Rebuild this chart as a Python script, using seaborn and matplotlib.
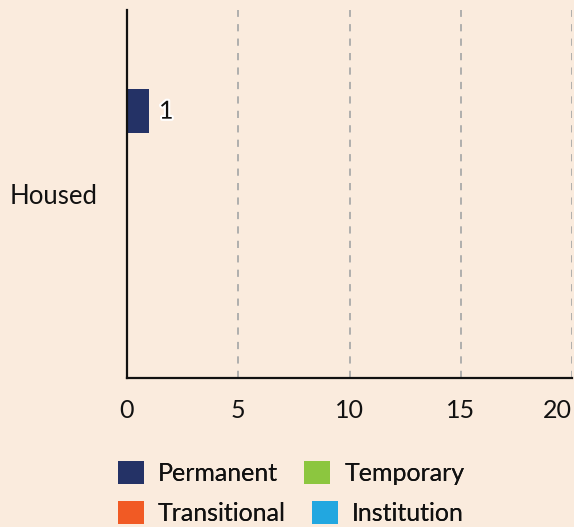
import matplotlib
matplotlib.use("Agg")
import matplotlib.pyplot as plt
import matplotlib.patheffects as pe
from matplotlib.patches import Patch
import seaborn as sns
import pandas as pd

categories = ["Housed"]
series = ["Permanent", "Temporary", "Transitional", "Institution"]
values = {"Permanent": [1], "Temporary": [0], "Transitional": [0], "Institution": [0]}
colors = ["#243266", "#8CC63F", "#F15A24", "#22A7E0"]
xticks = [0, 5, 10, 15, 20]

rows = []
for s in series:
    for c, v in zip(categories, values[s]):
        rows.append({"category": c, "series": s, "value": v})
df = pd.DataFrame(rows)

bg = "#FAEBDD"
fs = 18
sns.set_theme(style="white")
plt.rcParams["font.family"] = ["Lato", "DejaVu Sans"]

fig = plt.figure(figsize=(5.74, 5.27), dpi=100, facecolor=bg)
ax = fig.add_axes([127/574, 1-378/527, 445/574, 368/527])
ax.set_facecolor(bg)

sns.barplot(data=df, y="category", x="value", hue="series", hue_order=series,
            palette=colors, orient="h", width=0.6, gap=0.2, ax=ax, legend=False,
            saturation=1, linewidth=0)

ax.set_xlim(0, 20)
ax.set_ylim(0.5, -0.5)
ax.set_xticks(xticks)
ax.set_xticklabels([str(t) for t in xticks], fontsize=fs, color="#111111")
ax.get_xticklabels()[-1].set_horizontalalignment("right")
ax.tick_params(axis="x", length=0, pad=15)
ax.tick_params(axis="y", length=0, pad=21, labelsize=fs + 0.5, labelcolor="#111111")
ax.set_xlabel("")
ax.set_ylabel("")
for t in xticks[1:]:
    ax.axvline(t, color="#AAAAAA", linestyle=(0, (4, 4)), linewidth=1.3, zorder=0)
for side in ["top", "right"]:
    ax.spines[side].set_visible(False)
for side in ["left", "bottom"]:
    ax.spines[side].set_color("#111111")
    ax.spines[side].set_linewidth(1.6)

for cont, s in zip(ax.containers, series):
    labels = [str(v) if v else "" for v in values[s]]
    txts = ax.bar_label(cont, labels=labels, padding=7, fontsize=fs, color="#111111")
    for t in txts:
        t.set_path_effects([pe.withStroke(linewidth=3, foreground="white")])

handles = [Patch(facecolor=c, edgecolor="none", label=s) for s, c in zip(series, colors)]
for i, yc in enumerate([473, 513]):
    leg = fig.legend(handles=handles[2*i:2*i+2], loc="center",
                     bbox_to_anchor=(291/574, 1-yc/527), ncol=2,
                     frameon=False, fontsize=fs, handlelength=1.05, handleheight=1.05,
                     handletextpad=0.55, columnspacing=1.05, borderpad=0,
                     labelcolor="#111111")
    fig.add_artist(leg)

fig.savefig("out.png", dpi=100, facecolor=bg)
